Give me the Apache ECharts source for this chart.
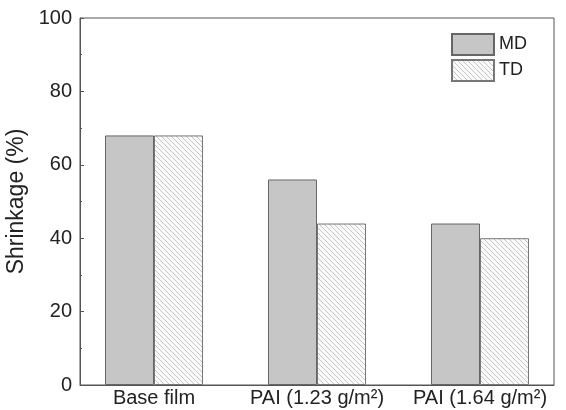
<!DOCTYPE html>
<html>
<head>
<meta charset="utf-8">
<script src="https://cdn.jsdelivr.net/npm/echarts@6/dist/echarts.min.js"></script>
<style>
html, body { margin: 0; padding: 0; background: #fff; }
#container { width: 566px; height: 410px; }
</style>
</head>
<body>
<div id="container"></div>
<script>
var categories = ['Base film', 'PAI (1.23 g/m\u00b2)', 'PAI (1.64 g/m\u00b2)'];
var mdValues = [68, 56, 44];
var tdValues = [68, 44, 40];
var yTicks = [0, 20, 40, 60, 80, 100];

// diagonal hatch for TD bars
function hatch() {
    var s = 5;
    var c = document.createElement('canvas');
    c.width = s; c.height = s;
    var ctx = c.getContext('2d');
    ctx.fillStyle = '#fafafa';
    ctx.fillRect(0, 0, s, s);
    ctx.strokeStyle = '#c6c6c6';
    ctx.lineWidth = 1;
    [-s, 0, s].forEach(function (k) {
        ctx.beginPath();
        ctx.moveTo(-s + k, -s);
        ctx.lineTo(2 * s + k, 2 * s);
        ctx.stroke();
    });
    return c;
}

function pairs(vals) {
    return vals.map(function (v, i) { return [i, v]; });
}

var dom = document.getElementById('container');
var myChart = echarts.init(dom, null, { renderer: 'canvas' });
var textColor = '#222';
var lineColor = '#555';

var option = {
    backgroundColor: '#fff',
    textStyle: { fontFamily: '"Liberation Sans", Arial, sans-serif', color: textColor },
    grid: {
        left: 80, right: 12, top: 18, bottom: 25,
        outerBoundsMode: 'none',
        containLabel: false,
        show: true, borderColor: lineColor, borderWidth: 1
    },
    legend: {
        orient: 'vertical',
        left: 446, top: 28,
        icon: 'rect',
        itemWidth: 42, itemHeight: 21, itemGap: 3,
        textStyle: { fontSize: 18, color: textColor },
        data: ['MD', 'TD']
    },
    xAxis: {
        type: 'value',
        min: -0.454,
        max: 2.454,
        axisLine: { onZero: false, lineStyle: { color: lineColor } },
        axisTick: { show: false },
        splitLine: { show: false },
        axisLabel: {
            customValues: [0, 1, 2],
            formatter: function (v) { return categories[Math.round(v)]; },
            fontSize: 20,
            color: textColor,
            margin: 3
        }
    },
    yAxis: {
        type: 'value',
        min: 0, max: 100, interval: 20,
        name: 'Shrinkage (%)',
        nameLocation: 'middle',
        nameGap: 45,
        nameTextStyle: { fontSize: 23, color: textColor },
        axisLine: { show: true, onZero: false, lineStyle: { color: lineColor } },
        axisTick: { show: true, inside: true, length: 4, lineStyle: { color: lineColor } },
        minorTick: { show: true, splitNumber: 2, length: 2, lineStyle: { color: lineColor } },
        splitLine: { show: false },
        axisLabel: { fontSize: 20, color: textColor, margin: 8 }
    },
    series: [{
        name: 'MD',
        type: 'bar',
        barWidth: 49,
        barGap: '0%',
        itemStyle: { color: '#c6c6c6', borderColor: '#666', borderWidth: 1 },
        data: pairs(mdValues)
    }, {
        name: 'TD',
        type: 'bar',
        barWidth: 49,
        barGap: '0%',
        itemStyle: { color: { image: hatch(), repeat: 'repeat' }, borderColor: '#777', borderWidth: 1 },
        data: pairs(tdValues)
    }]
};
myChart.setOption(option);
</script>
</body>
</html>
